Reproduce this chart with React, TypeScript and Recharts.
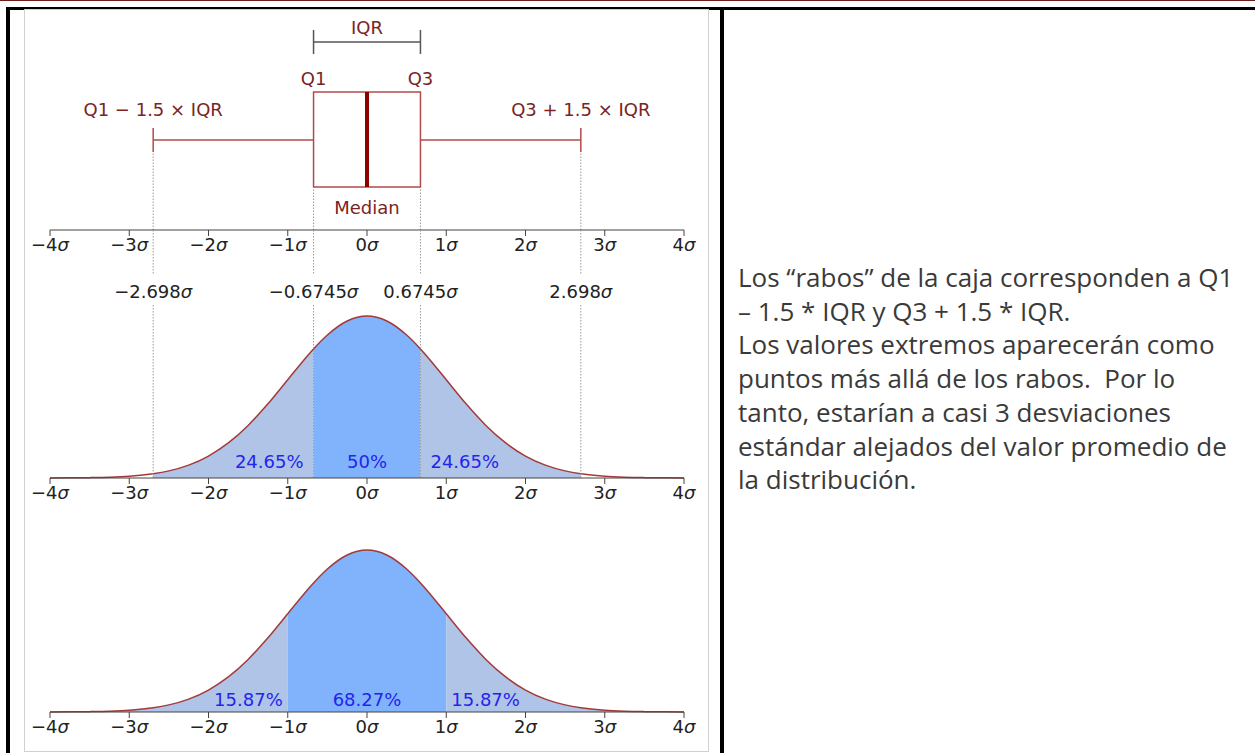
import React from "react";
import { ComposedChart, Area, Line, XAxis, YAxis, ReferenceLine, ReferenceArea, ReferenceDot } from "recharts";

// standard normal density, x in sigma units
const SIGMA_TICKS = [-4, -3, -2, -1, 0, 1, 2, 3, 4];
const CURVE_X = [-4, -3.75, -3.5, -3.25, -3, -2.75, -2.698, -2.5, -2.25, -2, -1.75, -1.5, -1.25, -1, -0.75, -0.6745, -0.5, -0.25, 0,
  0.25, 0.5, 0.6745, 0.75, 1, 1.25, 1.5, 1.75, 2, 2.25, 2.5, 2.698, 2.75, 3, 3.25, 3.5, 3.75, 4];
const CURVE_Y = [0.0001, 0.0004, 0.0009, 0.002, 0.0044, 0.0091, 0.0105, 0.0175, 0.0317, 0.054, 0.0863, 0.1295, 0.1826, 0.242, 0.3011, 0.3178, 0.3521, 0.3867, 0.3989,
  0.3867, 0.3521, 0.3178, 0.3011, 0.242, 0.1826, 0.1295, 0.0863, 0.054, 0.0317, 0.0175, 0.0105, 0.0091, 0.0044, 0.002, 0.0009, 0.0004, 0.0001];

// box plot
const QUARTILES = [-0.6745, 0, 0.6745]; // Q1, median, Q3
const WHISKERS = [-2.698, 2.698];
const QUARTILE_NAMES = ["Q1", "Median", "Q3"];
const WHISKER_NAMES = ["Q1 − 1.5 × IQR", "Q3 + 1.5 × IQR"];
const MARK_X = [-2.698, -0.6745, 0.6745, 2.698];
const MARK_LABELS = ["−2.698σ", "−0.6745σ", "0.6745σ", "2.698σ"];

// shaded bands under the curves
const IQR_BANDS = [[-2.698, -0.6745], [-0.6745, 0.6745], [0.6745, 2.698]];
const IQR_SHARES = ["24.65%", "50%", "24.65%"];
const SD_BANDS = [[-4, -1], [-1, 1], [1, 4]];
const SD_SHARES = ["15.87%", "68.27%", "15.87%"];

const NOTE_LINES = [
  "Los “rabos” de la caja corresponden a Q1",
  "– 1.5 * IQR y Q3 + 1.5 * IQR.",
  "Los valores extremos aparecerán como",
  "puntos más allá de los rabos.  Por lo",
  "tanto, estarían a casi 3 desviaciones",
  "estándar alejados del valor promedio de",
  "la distribución.",
];

const FONT = "DejaVu Sans";
const FS = 18;
const AXIS = "#444";
const BOX = "#b24a4a";
const BOX_TEXT = "#7a2424";
const LIGHT = "#afc4e6";
const DARK = "#80b3fc";
const BAND_FILLS = [LIGHT, DARK, LIGHT];
const CURVE = "#a33a3a";
const SHARE_TEXT = "#2424ee";
const DOTS = "#9a9a9a";
const MARGIN = { top: 0, right: 46, left: 50, bottom: 0 };

const rows = CURVE_X.map((x, i) => ({ x, y: CURVE_Y[i] }));
const inBand = (lo: number, hi: number) => (r: any) => (r.x >= lo - 1e-9 && r.x <= hi + 1e-9 ? r.y : null);

const sigmaText = (s: string) => {
  const body = s.endsWith("σ") ? s.slice(0, -1) : s;
  return (
    <>
      {body}
      {s.endsWith("σ") && <tspan fontStyle="italic">σ</tspan>}
    </>
  );
};

const SigmaTick = ({ x, y, payload }: any) => {
  const v = payload.value;
  const s = (v < 0 ? "−" + Math.abs(v) : String(v)) + "σ";
  return (
    <text x={x} y={y} dy={13} textAnchor="middle" fontSize={FS} fill="#222" fontFamily={FONT}>
      {sigmaText(s)}
    </text>
  );
};

const textAt = (key: string, x: number, y: number, text: string, fill: string, anchor = "middle", dx = 0) => (
  <ReferenceDot
    key={key}
    x={x}
    y={y}
    r={0}
    ifOverflow="visible"
    shape={(p: any) => (
      <text x={p.cx + dx} y={p.cy} dy="0.36em" textAnchor={anchor} fill={fill} fontSize={FS} fontFamily={FONT}>
        {sigmaText(text)}
      </text>
    )}
  />
);

const seg = (key: string, x1: number, y1: number, x2: number, y2: number, stroke: string, w = 1.5, dash?: string) => (
  <ReferenceLine
    key={key}
    segment={[{ x: x1, y: y1 }, { x: x2, y: y2 }]}
    stroke={stroke}
    strokeWidth={w}
    strokeDasharray={dash}
    ifOverflow="visible"
  />
);

const xAxis = (height: number) => (
  <XAxis
    type="number"
    dataKey="x"
    domain={[-4, 4]}
    ticks={SIGMA_TICKS}
    interval={0}
    height={height}
    stroke={AXIS}
    tickSize={6}
    tick={<SigmaTick />}
  />
);

// vertical layout of the box plot, in px above its axis
const BOX_LOW = 43;
const BOX_HIGH = 138;
const WHISKER_Y = 90;
const CAP = 12;
const IQR_Y = 188;

const BoxPlot = () => {
  const [q1, med, q3] = QUARTILES;
  const [wl, wr] = WHISKERS;
  return (
    <ComposedChart width={730} height={280} data={rows} margin={{ ...MARGIN, top: 10 }}>
      {xAxis(50)}
      <YAxis hide type="number" domain={[0, 220]} />
      {/* invisible carrier series so the y scale exists */}
      <Line dataKey="y" stroke="none" dot={false} activeDot={false} isAnimationActive={false} />
      {seg("dl", wl, 0, wl, WHISKER_Y - CAP, DOTS, 1, "1.5 1.5")}
      {seg("dr", wr, 0, wr, WHISKER_Y - CAP, DOTS, 1, "1.5 1.5")}
      {seg("dq1", q1, 0, q1, BOX_LOW, DOTS, 1, "1.5 1.5")}
      {seg("dq3", q3, 0, q3, BOX_LOW, DOTS, 1, "1.5 1.5")}
      <ReferenceArea x1={q1} x2={q3} y1={BOX_LOW} y2={BOX_HIGH} fill="#fff" fillOpacity={1} stroke={BOX} strokeWidth={1.5} ifOverflow="visible" />
      {seg("wl", wl, WHISKER_Y, q1, WHISKER_Y, BOX)}
      {seg("wr", q3, WHISKER_Y, wr, WHISKER_Y, BOX)}
      {seg("cl", wl, WHISKER_Y - CAP, wl, WHISKER_Y + CAP, BOX)}
      {seg("cr", wr, WHISKER_Y - CAP, wr, WHISKER_Y + CAP, BOX)}
      {seg("med", med, BOX_LOW, med, BOX_HIGH, "#8b0000", 4)}
      {seg("iqr", q1, IQR_Y, q3, IQR_Y, "#555")}
      {seg("iqr1", q1, IQR_Y - CAP, q1, IQR_Y + CAP, "#555")}
      {seg("iqr3", q3, IQR_Y - CAP, q3, IQR_Y + CAP, "#555")}
      {textAt("tiqr", med, 202, "IQR", BOX_TEXT)}
      {textAt("tq1", q1, 151, QUARTILE_NAMES[0], BOX_TEXT)}
      {textAt("tq3", q3, 151, QUARTILE_NAMES[2], BOX_TEXT)}
      {textAt("tmed", med, 22, QUARTILE_NAMES[1], BOX_TEXT)}
      {textAt("twl", wl, 120, WHISKER_NAMES[0], BOX_TEXT)}
      {textAt("twr", wr, 120, WHISKER_NAMES[1], BOX_TEXT)}
    </ComposedChart>
  );
};

const Bell = ({ height, axisHeight, yTop, bands, shares, shareY, gap, marks }: any) => (
  <ComposedChart width={730} height={height} data={rows} margin={MARGIN}>
    {xAxis(axisHeight)}
    <YAxis hide type="number" domain={[0, yTop]} />
    {bands.map((b: number[], i: number) => (
      <Area
        key={"b" + i}
        type="monotone"
        dataKey={inBand(b[0], b[1])}
        stroke="none"
        fill={BAND_FILLS[i]}
        fillOpacity={1}
        isAnimationActive={false}
        dot={false}
        activeDot={false}
      />
    ))}
    <Line type="monotone" dataKey="y" stroke={CURVE} strokeWidth={1.5} dot={false} activeDot={false} isAnimationActive={false} />
    {marks &&
      MARK_X.flatMap((x, i) => [
        seg("m" + i, x, yTop, x, 0.5, DOTS, 1, "1.5 1.5"),
        seg("n" + i, x, 0.426, x, 0, DOTS, 1, "1.5 1.5"),
        textAt("l" + i, x, 0.458, MARK_LABELS[i], "#222"),
      ])}
    {textAt("s0", bands[0][1], shareY, shares[0], SHARE_TEXT, "end", -gap)}
    {textAt("s1", (bands[1][0] + bands[1][1]) / 2, shareY, shares[1], SHARE_TEXT)}
    {textAt("s2", bands[2][0], shareY, shares[2], SHARE_TEXT, "start", gap)}
  </ComposedChart>
);

export default function App() {
  return (
    <div style={{ position: "absolute", left: 0, top: 0, width: 1255, height: 753, background: "#fff", overflow: "hidden" }}>
      <div style={{ position: "absolute", left: 0, top: 0, width: 1255, height: 1, background: "#6a1b1b" }} />
      <div style={{ position: "absolute", left: 6, top: 7, width: 1249, height: 3, background: "#000" }} />
      <div style={{ position: "absolute", left: 6, top: 7, width: 4, height: 746, background: "#000" }} />
      <div style={{ position: "absolute", left: 720, top: 7, width: 4, height: 746, background: "#000" }} />
      <div style={{ position: "absolute", left: 24, top: 9, width: 683, height: 741, border: "1px solid #d0d0d0" }} />

      <div style={{ position: "absolute", left: 0, top: 0 }}>
        <BoxPlot />
      </div>
      <div style={{ position: "absolute", left: 0, top: 230 }}>
        <Bell height={298} axisHeight={50} yTop={0.6107} bands={IQR_BANDS} shares={IQR_SHARES} shareY={0.0394} gap={10} marks />
      </div>
      <div style={{ position: "absolute", left: 0, top: 520 }}>
        <Bell height={232} axisHeight={40} yTop={0.4728} bands={SD_BANDS} shares={SD_SHARES} shareY={0.0313} gap={5} />
      </div>

      <div
        style={{
          position: "absolute",
          left: 738,
          top: 261,
          fontFamily: "Open Sans",
          fontSize: 26,
          lineHeight: "33.7px",
          color: "#3a3a3a",
          whiteSpace: "pre",
        }}
      >
        {NOTE_LINES.map((l, i) => (
          <div key={i}>{l}</div>
        ))}
      </div>
    </div>
  );
}
